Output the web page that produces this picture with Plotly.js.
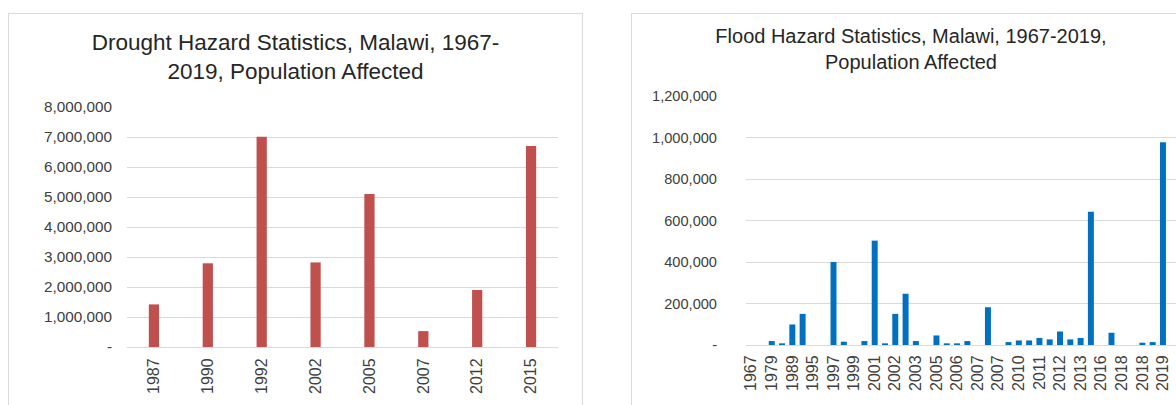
<!DOCTYPE html>
<html>
<head>
<meta charset="utf-8">
<script src="https://cdn.plot.ly/plotly-3.0.1.min.js"></script>
<style>
  html, body { margin: 0; padding: 0; width: 1176px; height: 405px; overflow: hidden; background: #ffffff; }
  .box { position: absolute; border: 1px solid #d9d9d9; background: #fff; overflow: hidden; }
  #drought { left: 8px; top: 13px; width: 573px; height: 420px; }
  #flood { left: 631px; top: 13px; width: 580px; height: 420px; }
</style>
</head>
<body>
<div id="drought" class="box"></div>
<div id="flood" class="box"></div>
<script>
// ---- Drought data ----
const droughtYears = ['1987', '1990', '1992', '2002', '2005', '2007', '2012', '2015'];
const droughtAffected = [1420000, 2790000, 7010000, 2820000, 5100000, 530000, 1900000, 6700000];
const droughtTickVals = [0, 1000000, 2000000, 3000000, 4000000, 5000000, 6000000, 7000000, 8000000];
const droughtTickText = ['-', '1,000,000', '2,000,000', '3,000,000', '4,000,000', '5,000,000', '6,000,000', '7,000,000', '8,000,000'];

// ---- Flood data (every other category label is shown on the axis) ----
const floodYears = ['1967', '1976', '1979', '1985', '1989', '1991', '1995', '1996', '1997', '1998',
                    '1999', '2000', '2001', '2001', '2002', '2002', '2003', '2004', '2005', '2006',
                    '2006', '2006', '2007', '2007', '2007', '2008', '2010', '2010', '2011', '2011',
                    '2012', '2012', '2013', '2015', '2016', '2017', '2018', '2018', '2018', '2019', '2019'];
const floodAffected = [0, 0, 19000, 8000, 99000, 150000, 0, 0, 400000, 16000,
                       0, 19000, 503000, 8000, 150000, 247000, 19000, 0, 46000, 8000,
                       8000, 19000, 0, 182000, 0, 14000, 22000, 22000, 34000, 27000,
                       65000, 27000, 34000, 642000, 0, 59000, 0, 0, 11000, 14000, 977000];
const floodTickVals = [0, 200000, 400000, 600000, 800000, 1000000, 1200000];
const floodTickText = ['-', '200,000', '400,000', '600,000', '800,000', '1,000,000', '1,200,000'];

const FONT = 'Liberation Sans, Arial, sans-serif';
const TXT = '#404040';
const GRID = '#d9d9d9';

// Drought chart
(function () {
  const idx = droughtYears.map((_, i) => i);
  const trace = {
    type: 'bar', x: idx, y: droughtAffected,
    marker: { color: '#c0504d' }, width: 0.19,
    hoverinfo: 'skip'
  };
  const layout = {
    width: 573, height: 420,
    margin: { l: 118, r: 24, t: 93, b: 87 },
    paper_bgcolor: '#ffffff', plot_bgcolor: '#ffffff',
    showlegend: false,
    font: { family: FONT, color: TXT },
    title: {
      text: 'Drought Hazard Statistics, Malawi, 1967-<br>2019, Population Affected',
      font: { family: FONT, size: 22.5, color: '#262626' },
      x: 0.5, xref: 'container', xanchor: 'center',
      y: 1 - 36 / 420, yref: 'container', yanchor: 'top'
    },
    xaxis: {
      range: [-0.5, 7.5], tickmode: 'array', tickvals: idx, ticktext: droughtYears,
      tickangle: -90, tickfont: { size: 16, color: TXT },
      showgrid: false, zeroline: false, showline: true, linecolor: GRID, linewidth: 1,
      ticks: '', ticklabelstandoff: 4, fixedrange: true
    },
    yaxis: {
      range: [0, 8000000], tickmode: 'array', tickvals: droughtTickVals, ticktext: droughtTickText,
      tickfont: { size: 15.3, color: TXT }, gridcolor: GRID, gridwidth: 1,
      zeroline: false, showline: false, ticks: '', ticklabelstandoff: 14, fixedrange: true
    }
  };
  Plotly.newPlot('drought', [trace], layout, { staticPlot: true, displayModeBar: false });
})();

// Flood chart
(function () {
  const idx = floodYears.map((_, i) => i);
  const tv = idx.filter(i => i % 2 === 0);
  const tt = tv.map(i => floodYears[i]);
  const trace = {
    type: 'bar', x: idx, y: floodAffected,
    marker: { color: '#0070c0' }, width: 0.58,
    hoverinfo: 'skip'
  };
  const layout = {
    width: 580, height: 420,
    margin: { l: 114, r: 13, t: 82, b: 89 },
    paper_bgcolor: '#ffffff', plot_bgcolor: '#ffffff',
    showlegend: false,
    font: { family: FONT, color: TXT },
    title: {
      text: 'Flood Hazard Statistics, Malawi, 1967-2019,<br>Population Affected',
      font: { family: FONT, size: 20, color: '#262626' },
      x: 279 / 580, xref: 'container', xanchor: 'center',
      y: 1 - 29 / 420, yref: 'container', yanchor: 'top'
    },
    xaxis: {
      range: [-0.5, 43.5], tickmode: 'array', tickvals: tv, ticktext: tt,
      tickangle: -90, tickfont: { size: 16, color: TXT },
      showgrid: false, zeroline: false, showline: true, linecolor: GRID, linewidth: 1,
      ticks: '', ticklabelstandoff: 3, fixedrange: true
    },
    yaxis: {
      range: [0, 1200000], tickmode: 'array', tickvals: floodTickVals, ticktext: floodTickText,
      tickfont: { size: 14.6, color: TXT }, gridcolor: GRID, gridwidth: 1,
      zeroline: false, showline: false, ticks: '', ticklabelstandoff: 28, fixedrange: true
    }
  };
  Plotly.newPlot('flood', [trace], layout, { staticPlot: true, displayModeBar: false });
})();
</script>
</body>
</html>
